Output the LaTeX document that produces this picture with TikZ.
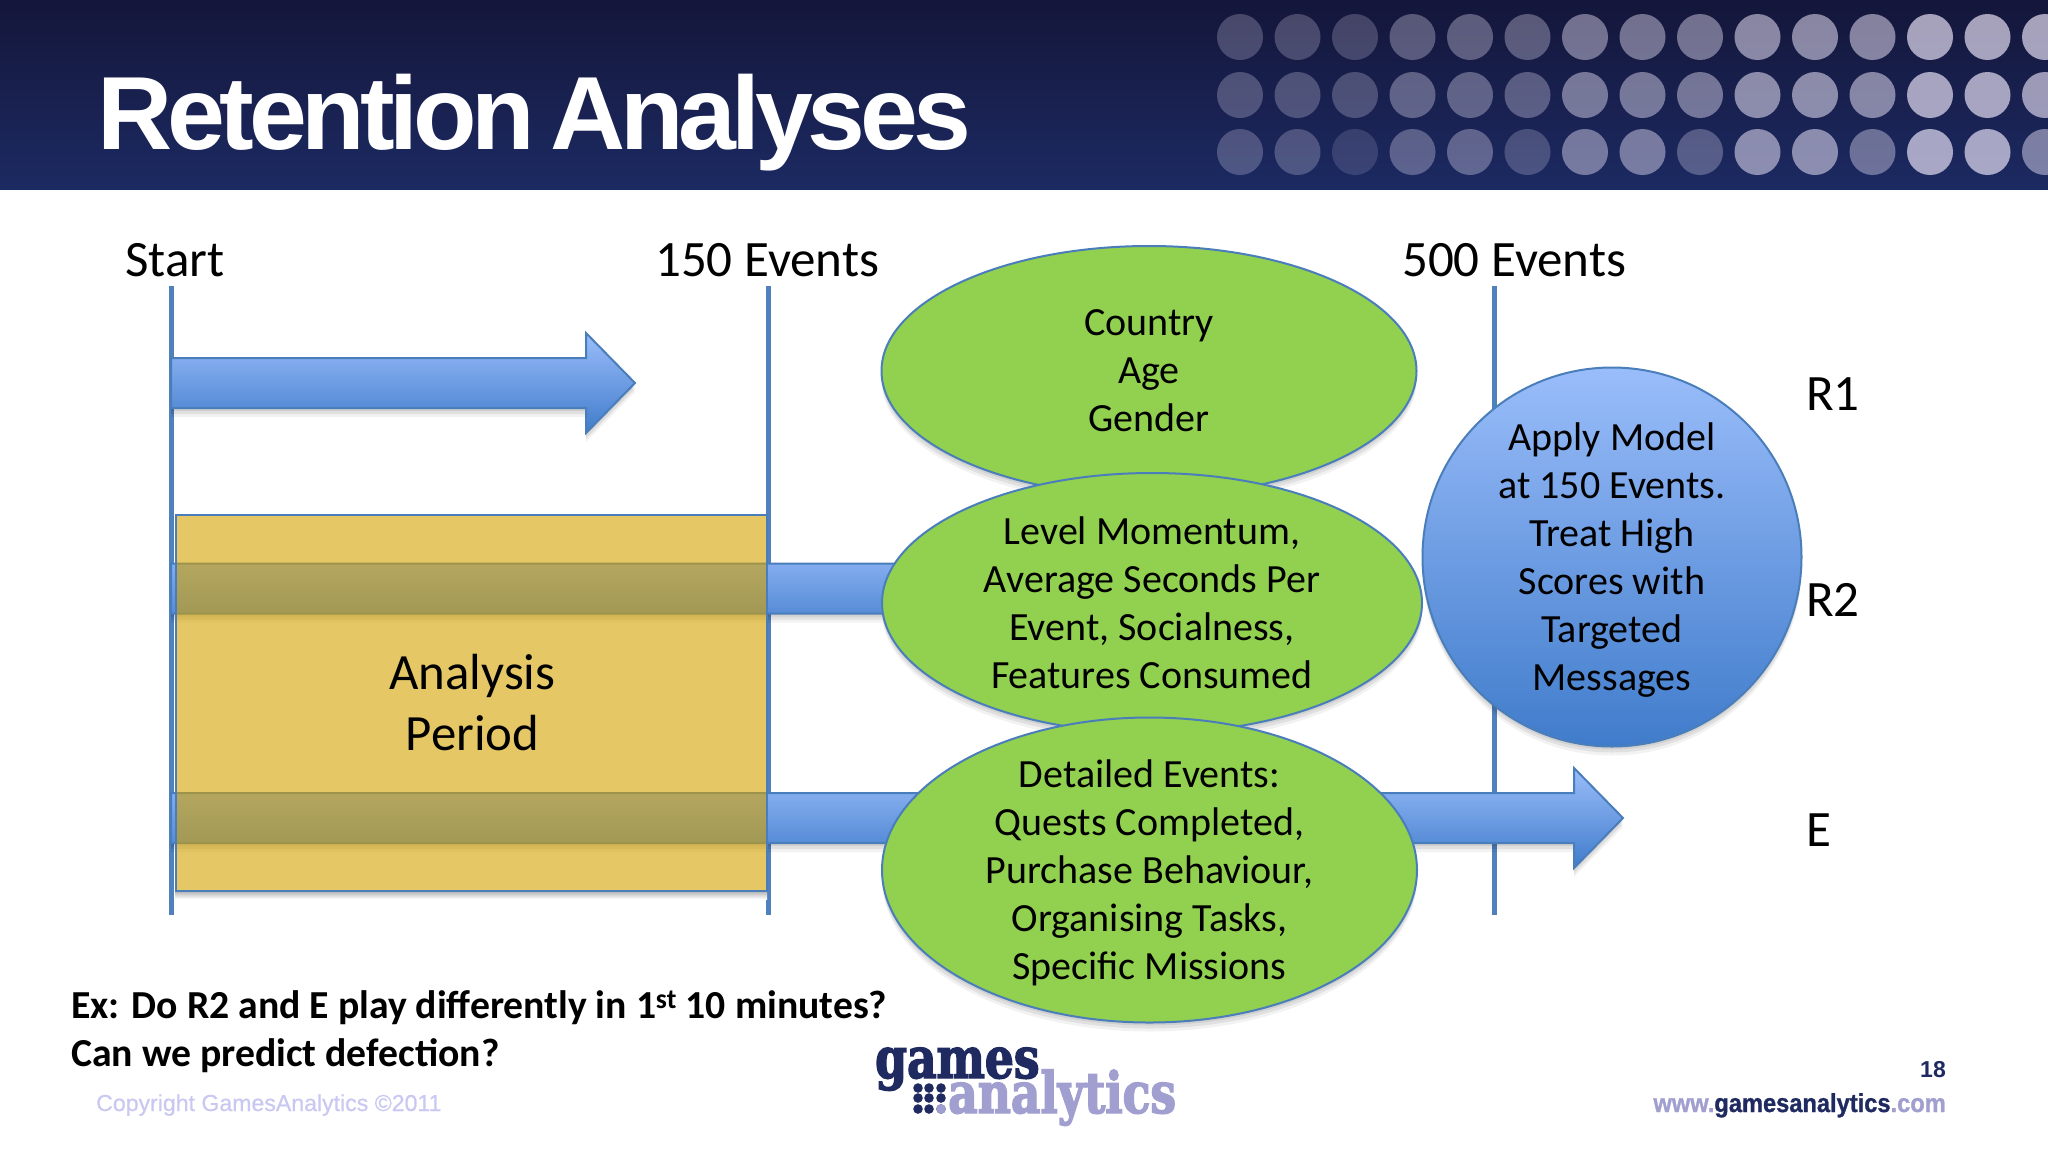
\documentclass[tikz,border=0pt]{standalone}
\usepackage{fontspec}
\setmainfont{Carlito}
\newfontfamily\titlefont{Liberation Sans}[LetterSpace=-5,WordSpace=0.65]
\newfontfamily\footfont{Liberation Sans}
\newfontfamily\copyfont{Liberation Sans}[FakeBold=0.5]
\newfontfamily\urlfont{Liberation Sans}[FakeStretch=0.91,FakeBold=1]
\newfontfamily\logofont{DejaVu Serif}[FakeStretch=0.8,FakeBold=2.5]
\usetikzlibrary{shapes.geometric,shadows}
\definecolor{headtop}{HTML}{14163A}
\definecolor{headbottom}{HTML}{1C2A62}
\definecolor{dotlilac}{HTML}{F4ECFF}
\definecolor{linkblue}{HTML}{4A7EBB}
\definecolor{lineblue}{HTML}{4F81BD}
\definecolor{skytop}{HTML}{9ABDFA}
\definecolor{skymiddle}{HTML}{7DA6EC}
\definecolor{skybottom}{HTML}{407CCB}
\definecolor{leafgreen}{HTML}{92D050}
\definecolor{periodgold}{HTML}{D5A200}
\definecolor{brandnavy}{HTML}{1F2A60}
\definecolor{brandlilac}{HTML}{A09FD0}
\definecolor{copyrightlilac}{HTML}{C8C8F2}
\begin{document}
\begin{tikzpicture}[
        x=1pt, y=-1pt,
        softshadow/.style={
            general shadow={fill=black, opacity=.07, shadow yshift=-3pt},
            general shadow={fill=black, opacity=.07, shadow yshift=-6pt},
            general shadow={fill=black, opacity=.05, shadow yshift=-9pt}},
        skyfill/.style={top color=skytop, middle color=skymiddle, bottom color=skybottom},
        timeline/.style={line width=5pt, draw=lineblue},
        blockarrow/.style={draw=linkblue, line width=2pt, skyfill, softshadow},
        bubbletext/.style={inner sep=-30pt, align=center, softshadow,
            font=\fontsize{40}{48}\selectfont},
        topic/.style={ellipse, draw=linkblue, line width=2pt, fill=leafgreen, bubbletext},
        heading/.style={anchor=base west, inner sep=0pt, font=\fontsize{51}{58}\selectfont},
        question/.style={anchor=base west, inner sep=0pt, font=\fontsize{39.7}{48}\selectfont\bfseries}
    ]
        \useasboundingbox (0,0) rectangle (2048,1152);
        \fill[white] (0,0) rectangle (2048,1152);
        \shade[top color=headtop, bottom color=headbottom] (0,0) rectangle (2048,189);

        \foreach \ya/\levels in {
                37/{.23,.23,.21,.30,.32,.31,.42,.42,.42,.52,.52,.50,.65,.65,.65},
                95/{.25,.25,.24,.33,.33,.30,.43,.43,.42,.53,.53,.50,.65,.65,.60},
                152/{.24,.24,.14,.30,.32,.22,.42,.43,.28,.52,.52,.38,.65,.65,.45}} {
            \foreach \level [count=\col from 0] in \levels {
                \fill[dotlilac, opacity=\level] ({1240+57.5*\col},\ya) circle [radius=23];
            }
        }

        \node[anchor=base west, inner sep=0pt, text=white, font=\fontsize{104}{110}\selectfont\titlefont\bfseries] (title) at (97,149) {Retention Analyses};

        \node[heading] (start) at (125,276) {Start};
        \node[heading] (first) at (655,276) {150 Events};
        \node[heading] (second) at (1402,276) {500 Events};

        \foreach \xa in {171,768,1494} {
            \draw[timeline] (\xa,286) -- (\xa,915);
        }

        \foreach \yc/\tipx in {383/635, 588.5/1170, 818/1623} {
            \path[blockarrow] (171,\yc-25) -- ({\tipx-49},\yc-25) -- ({\tipx-49},\yc-50) -- (\tipx,\yc)
                -- ({\tipx-49},\yc+50) -- ({\tipx-49},\yc+25) -- (171,\yc+25) -- cycle;
        }

        \shade[top color=black!30, bottom color=white] (175,891) rectangle (767,899);
        \path[draw=linkblue, line width=2pt, fill=periodgold, fill opacity=.6] (175.5,515) rectangle (767,891);
        \node[align=center, inner sep=0pt, font=\fontsize{50.8}{61}\selectfont] (period) at (472.5,703) {Analysis\\Period};

        \node[topic, text depth=-2pt, minimum width=535pt, minimum height=250pt] (country) at (1149,371) {Country\\Age\\Gender};
        \node[topic, text depth=-7pt, minimum width=540pt, minimum height=260pt] (momentum) at (1152,603) {Level Momentum,\\Average Seconds Per\\Event, Socialness,\\Features Consumed};
        \node[topic, text depth=1pt, minimum width=535pt, minimum height=305pt] (detail) at (1149.5,870) {Detailed Events:\\Quests Completed,\\Purchase Behaviour,\\Organising Tasks,\\Specific Missions};

        \node[circle, draw=linkblue, line width=2pt, skyfill, text depth=-2pt, minimum size=379pt, bubbletext] (model) at (1612,557) {Apply Model\\at 150 Events.\\Treat High\\Scores with\\Targeted\\Messages};

        \node[heading] (rone) at (1806,410) {R1};
        \node[heading] (rtwo) at (1806,616) {R2};
        \node[heading] (eee) at (1806,846) {E};

        \node[question] (ask) at (71,1018) {Ex: Do R2 and E play differently in 1\textsuperscript{st} 10 minutes?};
        \node[question] (predict) at (71,1066) {Can we predict defection?};

        \node[anchor=base west, inner sep=0pt, text=copyrightlilac, font=\fontsize{23.1}{28}\selectfont\copyfont] (copyright) at (96,1111) {Copyright GamesAnalytics ©2011};

        \node[anchor=base west, inner sep=0pt, text=brandnavy, font=\fontsize{57}{60}\selectfont\logofont\bfseries] (games) at (875,1078) {games};
        \node[anchor=base west, inner sep=0pt, text=brandlilac, font=\fontsize{57}{60}\selectfont\logofont\bfseries] (analytics) at (948,1113) {analytics};
        \foreach \ya in {1088,1098,1109} {
            \foreach \xa in {918,929,941} {
                \fill[brandnavy] (\xa,\ya) circle [radius=4.8];
            }
        }
        \fill[brandlilac] (941,1109) circle [radius=4.8];

        \node[anchor=base east, inner sep=0pt, text=brandnavy, font=\fontsize{23}{26}\selectfont\footfont\bfseries] (page) at (1946,1077) {18};
        \node[anchor=base east, inner sep=0pt, font=\fontsize{26}{30}\selectfont\urlfont\bfseries] (site) at (1946,1112) {\textcolor{brandlilac}{www.}\textcolor{brandnavy}{gamesanalytics}\textcolor{brandlilac}{.com}};
    \end{tikzpicture}
\end{document}
